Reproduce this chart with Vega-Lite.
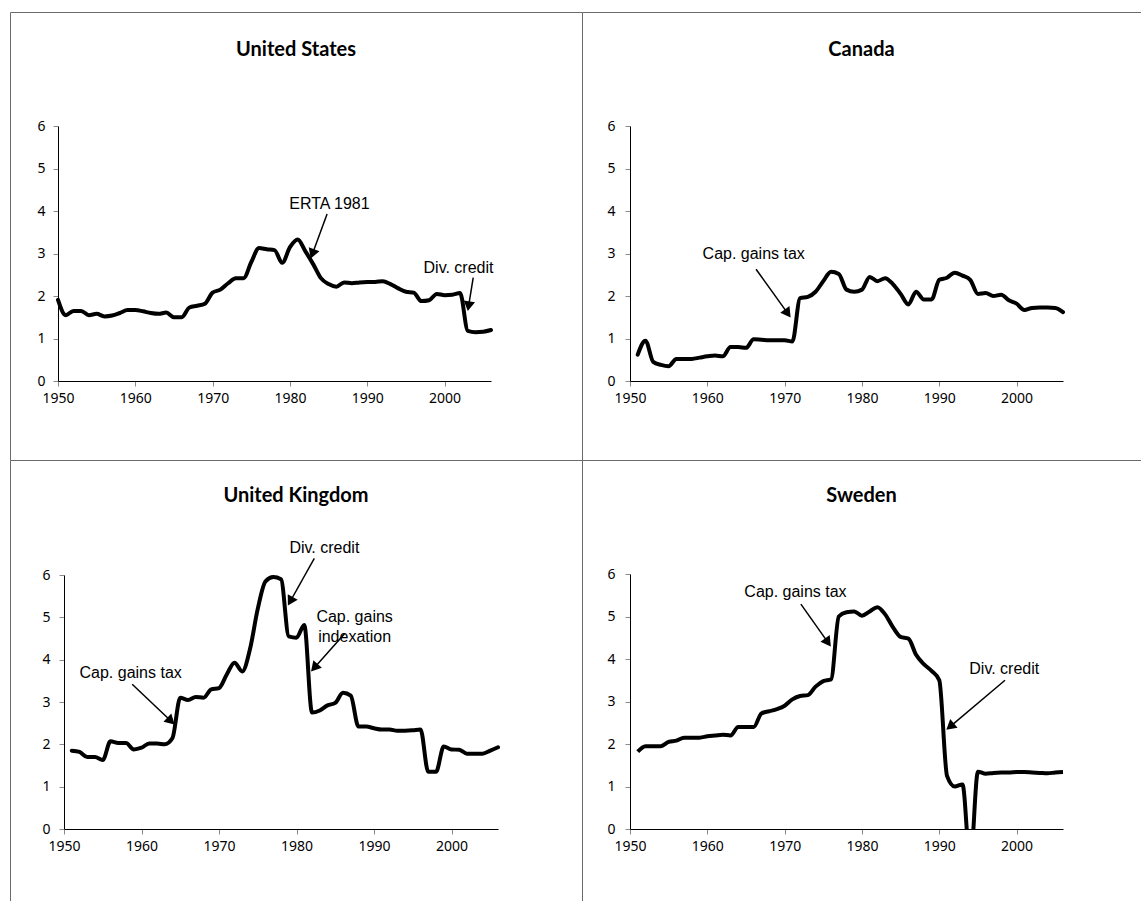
{
  "$schema": "https://vega.github.io/schema/vega-lite/v6.json",
  "padding": {"left": 9, "top": 11, "right": 0, "bottom": 0},
  "background": "white",
  "config": {
    "view": {"stroke": "#6b6b6b", "strokeWidth": 1},
    "axis": {"labelFont": "Noto Sans", "labelFontSize": 14, "labelColor": "black", "domainColor": "black", "domainWidth": 1, "tickColor": "#8a8a8a", "tickSize": 5, "grid": false, "labelFlush": false, "labelOverlap": false}
  },
  "datasets": {
    "series": [
      {"country": "United States", "year": 1950, "value": 1.91},
      {"country": "United States", "year": 1951, "value": 1.55},
      {"country": "United States", "year": 1952, "value": 1.65},
      {"country": "United States", "year": 1953, "value": 1.65},
      {"country": "United States", "year": 1954, "value": 1.55},
      {"country": "United States", "year": 1955, "value": 1.58},
      {"country": "United States", "year": 1956, "value": 1.52},
      {"country": "United States", "year": 1957, "value": 1.54},
      {"country": "United States", "year": 1958, "value": 1.6},
      {"country": "United States", "year": 1959, "value": 1.67},
      {"country": "United States", "year": 1960, "value": 1.67},
      {"country": "United States", "year": 1961, "value": 1.64},
      {"country": "United States", "year": 1962, "value": 1.6},
      {"country": "United States", "year": 1963, "value": 1.58},
      {"country": "United States", "year": 1964, "value": 1.61},
      {"country": "United States", "year": 1965, "value": 1.5},
      {"country": "United States", "year": 1966, "value": 1.5},
      {"country": "United States", "year": 1967, "value": 1.73},
      {"country": "United States", "year": 1968, "value": 1.77},
      {"country": "United States", "year": 1969, "value": 1.82},
      {"country": "United States", "year": 1970, "value": 2.08},
      {"country": "United States", "year": 1971, "value": 2.15},
      {"country": "United States", "year": 1972, "value": 2.3},
      {"country": "United States", "year": 1973, "value": 2.42},
      {"country": "United States", "year": 1974, "value": 2.42},
      {"country": "United States", "year": 1975, "value": 2.8},
      {"country": "United States", "year": 1976, "value": 3.13},
      {"country": "United States", "year": 1977, "value": 3.1},
      {"country": "United States", "year": 1978, "value": 3.08},
      {"country": "United States", "year": 1979, "value": 2.78},
      {"country": "United States", "year": 1980, "value": 3.15},
      {"country": "United States", "year": 1981, "value": 3.33},
      {"country": "United States", "year": 1982, "value": 3.05},
      {"country": "United States", "year": 1983, "value": 2.75},
      {"country": "United States", "year": 1984, "value": 2.42},
      {"country": "United States", "year": 1985, "value": 2.28},
      {"country": "United States", "year": 1986, "value": 2.22},
      {"country": "United States", "year": 1987, "value": 2.32},
      {"country": "United States", "year": 1988, "value": 2.3},
      {"country": "United States", "year": 1989, "value": 2.32},
      {"country": "United States", "year": 1990, "value": 2.33},
      {"country": "United States", "year": 1991, "value": 2.33},
      {"country": "United States", "year": 1992, "value": 2.35},
      {"country": "United States", "year": 1993, "value": 2.28},
      {"country": "United States", "year": 1994, "value": 2.18},
      {"country": "United States", "year": 1995, "value": 2.1},
      {"country": "United States", "year": 1996, "value": 2.08},
      {"country": "United States", "year": 1997, "value": 1.88},
      {"country": "United States", "year": 1998, "value": 1.9},
      {"country": "United States", "year": 1999, "value": 2.05},
      {"country": "United States", "year": 2000, "value": 2.02},
      {"country": "United States", "year": 2001, "value": 2.03},
      {"country": "United States", "year": 2002, "value": 2.07},
      {"country": "United States", "year": 2003, "value": 1.18},
      {"country": "United States", "year": 2004, "value": 1.15},
      {"country": "United States", "year": 2005, "value": 1.16},
      {"country": "United States", "year": 2006, "value": 1.2},
      {"country": "Canada", "year": 1951, "value": 0.62},
      {"country": "Canada", "year": 1952, "value": 0.95},
      {"country": "Canada", "year": 1953, "value": 0.45},
      {"country": "Canada", "year": 1954, "value": 0.38},
      {"country": "Canada", "year": 1955, "value": 0.35},
      {"country": "Canada", "year": 1956, "value": 0.52},
      {"country": "Canada", "year": 1957, "value": 0.52},
      {"country": "Canada", "year": 1958, "value": 0.52},
      {"country": "Canada", "year": 1959, "value": 0.55},
      {"country": "Canada", "year": 1960, "value": 0.58},
      {"country": "Canada", "year": 1961, "value": 0.6},
      {"country": "Canada", "year": 1962, "value": 0.58},
      {"country": "Canada", "year": 1963, "value": 0.8},
      {"country": "Canada", "year": 1964, "value": 0.8},
      {"country": "Canada", "year": 1965, "value": 0.78},
      {"country": "Canada", "year": 1966, "value": 0.98},
      {"country": "Canada", "year": 1967, "value": 0.97},
      {"country": "Canada", "year": 1968, "value": 0.96},
      {"country": "Canada", "year": 1969, "value": 0.96},
      {"country": "Canada", "year": 1970, "value": 0.96},
      {"country": "Canada", "year": 1971, "value": 0.93},
      {"country": "Canada", "year": 1972, "value": 1.95},
      {"country": "Canada", "year": 1973, "value": 1.98},
      {"country": "Canada", "year": 1974, "value": 2.1},
      {"country": "Canada", "year": 1975, "value": 2.35},
      {"country": "Canada", "year": 1976, "value": 2.57},
      {"country": "Canada", "year": 1977, "value": 2.52},
      {"country": "Canada", "year": 1978, "value": 2.15},
      {"country": "Canada", "year": 1979, "value": 2.1},
      {"country": "Canada", "year": 1980, "value": 2.15},
      {"country": "Canada", "year": 1981, "value": 2.45},
      {"country": "Canada", "year": 1982, "value": 2.35},
      {"country": "Canada", "year": 1983, "value": 2.42},
      {"country": "Canada", "year": 1984, "value": 2.28},
      {"country": "Canada", "year": 1985, "value": 2.05},
      {"country": "Canada", "year": 1986, "value": 1.8},
      {"country": "Canada", "year": 1987, "value": 2.1},
      {"country": "Canada", "year": 1988, "value": 1.92},
      {"country": "Canada", "year": 1989, "value": 1.92},
      {"country": "Canada", "year": 1990, "value": 2.38},
      {"country": "Canada", "year": 1991, "value": 2.43},
      {"country": "Canada", "year": 1992, "value": 2.55},
      {"country": "Canada", "year": 1993, "value": 2.48},
      {"country": "Canada", "year": 1994, "value": 2.38},
      {"country": "Canada", "year": 1995, "value": 2.05},
      {"country": "Canada", "year": 1996, "value": 2.07},
      {"country": "Canada", "year": 1997, "value": 2.0},
      {"country": "Canada", "year": 1998, "value": 2.03},
      {"country": "Canada", "year": 1999, "value": 1.9},
      {"country": "Canada", "year": 2000, "value": 1.82},
      {"country": "Canada", "year": 2001, "value": 1.67},
      {"country": "Canada", "year": 2002, "value": 1.72},
      {"country": "Canada", "year": 2003, "value": 1.73},
      {"country": "Canada", "year": 2004, "value": 1.73},
      {"country": "Canada", "year": 2005, "value": 1.72},
      {"country": "Canada", "year": 2006, "value": 1.62},
      {"country": "United Kingdom", "year": 1951, "value": 1.85},
      {"country": "United Kingdom", "year": 1952, "value": 1.82},
      {"country": "United Kingdom", "year": 1953, "value": 1.7},
      {"country": "United Kingdom", "year": 1954, "value": 1.7},
      {"country": "United Kingdom", "year": 1955, "value": 1.63},
      {"country": "United Kingdom", "year": 1956, "value": 2.07},
      {"country": "United Kingdom", "year": 1957, "value": 2.03},
      {"country": "United Kingdom", "year": 1958, "value": 2.03},
      {"country": "United Kingdom", "year": 1959, "value": 1.88},
      {"country": "United Kingdom", "year": 1960, "value": 1.92},
      {"country": "United Kingdom", "year": 1961, "value": 2.02},
      {"country": "United Kingdom", "year": 1962, "value": 2.02},
      {"country": "United Kingdom", "year": 1963, "value": 2.0},
      {"country": "United Kingdom", "year": 1964, "value": 2.15},
      {"country": "United Kingdom", "year": 1965, "value": 3.1},
      {"country": "United Kingdom", "year": 1966, "value": 3.05},
      {"country": "United Kingdom", "year": 1967, "value": 3.12},
      {"country": "United Kingdom", "year": 1968, "value": 3.1},
      {"country": "United Kingdom", "year": 1969, "value": 3.3},
      {"country": "United Kingdom", "year": 1970, "value": 3.33},
      {"country": "United Kingdom", "year": 1971, "value": 3.65},
      {"country": "United Kingdom", "year": 1972, "value": 3.93},
      {"country": "United Kingdom", "year": 1973, "value": 3.72},
      {"country": "United Kingdom", "year": 1974, "value": 4.25},
      {"country": "United Kingdom", "year": 1975, "value": 5.2},
      {"country": "United Kingdom", "year": 1976, "value": 5.85},
      {"country": "United Kingdom", "year": 1977, "value": 5.95},
      {"country": "United Kingdom", "year": 1978, "value": 5.9},
      {"country": "United Kingdom", "year": 1979, "value": 4.55},
      {"country": "United Kingdom", "year": 1980, "value": 4.52},
      {"country": "United Kingdom", "year": 1981, "value": 4.82},
      {"country": "United Kingdom", "year": 1982, "value": 2.75},
      {"country": "United Kingdom", "year": 1983, "value": 2.8},
      {"country": "United Kingdom", "year": 1984, "value": 2.92},
      {"country": "United Kingdom", "year": 1985, "value": 2.98},
      {"country": "United Kingdom", "year": 1986, "value": 3.22},
      {"country": "United Kingdom", "year": 1987, "value": 3.15},
      {"country": "United Kingdom", "year": 1988, "value": 2.42},
      {"country": "United Kingdom", "year": 1989, "value": 2.42},
      {"country": "United Kingdom", "year": 1990, "value": 2.38},
      {"country": "United Kingdom", "year": 1991, "value": 2.35},
      {"country": "United Kingdom", "year": 1992, "value": 2.35},
      {"country": "United Kingdom", "year": 1993, "value": 2.32},
      {"country": "United Kingdom", "year": 1994, "value": 2.32},
      {"country": "United Kingdom", "year": 1995, "value": 2.33},
      {"country": "United Kingdom", "year": 1996, "value": 2.35},
      {"country": "United Kingdom", "year": 1997, "value": 1.35},
      {"country": "United Kingdom", "year": 1998, "value": 1.35},
      {"country": "United Kingdom", "year": 1999, "value": 1.95},
      {"country": "United Kingdom", "year": 2000, "value": 1.88},
      {"country": "United Kingdom", "year": 2001, "value": 1.87},
      {"country": "United Kingdom", "year": 2002, "value": 1.78},
      {"country": "United Kingdom", "year": 2003, "value": 1.78},
      {"country": "United Kingdom", "year": 2004, "value": 1.78},
      {"country": "United Kingdom", "year": 2005, "value": 1.85},
      {"country": "United Kingdom", "year": 2006, "value": 1.93},
      {"country": "Sweden", "year": 1951, "value": 1.82},
      {"country": "Sweden", "year": 1952, "value": 1.95},
      {"country": "Sweden", "year": 1953, "value": 1.95},
      {"country": "Sweden", "year": 1954, "value": 1.95},
      {"country": "Sweden", "year": 1955, "value": 2.05},
      {"country": "Sweden", "year": 1956, "value": 2.08},
      {"country": "Sweden", "year": 1957, "value": 2.15},
      {"country": "Sweden", "year": 1958, "value": 2.15},
      {"country": "Sweden", "year": 1959, "value": 2.15},
      {"country": "Sweden", "year": 1960, "value": 2.18},
      {"country": "Sweden", "year": 1961, "value": 2.2},
      {"country": "Sweden", "year": 1962, "value": 2.22},
      {"country": "Sweden", "year": 1963, "value": 2.2},
      {"country": "Sweden", "year": 1964, "value": 2.4},
      {"country": "Sweden", "year": 1965, "value": 2.4},
      {"country": "Sweden", "year": 1966, "value": 2.4},
      {"country": "Sweden", "year": 1967, "value": 2.72},
      {"country": "Sweden", "year": 1968, "value": 2.77},
      {"country": "Sweden", "year": 1969, "value": 2.82},
      {"country": "Sweden", "year": 1970, "value": 2.9},
      {"country": "Sweden", "year": 1971, "value": 3.05},
      {"country": "Sweden", "year": 1972, "value": 3.13},
      {"country": "Sweden", "year": 1973, "value": 3.15},
      {"country": "Sweden", "year": 1974, "value": 3.35},
      {"country": "Sweden", "year": 1975, "value": 3.48},
      {"country": "Sweden", "year": 1976, "value": 3.52},
      {"country": "Sweden", "year": 1977, "value": 5.0},
      {"country": "Sweden", "year": 1978, "value": 5.1},
      {"country": "Sweden", "year": 1979, "value": 5.12},
      {"country": "Sweden", "year": 1980, "value": 5.02},
      {"country": "Sweden", "year": 1981, "value": 5.12},
      {"country": "Sweden", "year": 1982, "value": 5.22},
      {"country": "Sweden", "year": 1983, "value": 5.05},
      {"country": "Sweden", "year": 1984, "value": 4.75},
      {"country": "Sweden", "year": 1985, "value": 4.52},
      {"country": "Sweden", "year": 1986, "value": 4.48},
      {"country": "Sweden", "year": 1987, "value": 4.1},
      {"country": "Sweden", "year": 1988, "value": 3.88},
      {"country": "Sweden", "year": 1989, "value": 3.72},
      {"country": "Sweden", "year": 1990, "value": 3.5},
      {"country": "Sweden", "year": 1991, "value": 1.25},
      {"country": "Sweden", "year": 1992, "value": 1.0},
      {"country": "Sweden", "year": 1993, "value": 1.05},
      {"country": "Sweden", "year": 1994, "value": -0.8},
      {"country": "Sweden", "year": 1995, "value": 1.35},
      {"country": "Sweden", "year": 1996, "value": 1.3},
      {"country": "Sweden", "year": 1997, "value": 1.32},
      {"country": "Sweden", "year": 1998, "value": 1.33},
      {"country": "Sweden", "year": 1999, "value": 1.33},
      {"country": "Sweden", "year": 2000, "value": 1.34},
      {"country": "Sweden", "year": 2001, "value": 1.34},
      {"country": "Sweden", "year": 2002, "value": 1.33},
      {"country": "Sweden", "year": 2003, "value": 1.32},
      {"country": "Sweden", "year": 2004, "value": 1.31},
      {"country": "Sweden", "year": 2005, "value": 1.33},
      {"country": "Sweden", "year": 2006, "value": 1.34}
    ],
    "notes": [
      {"country": "United States", "label": "ERTA 1981", "lx": 1985.1, "ly": 4.16, "x": 1984.8, "y": 3.93, "x2": 1982.9, "y2": 2.99},
      {"country": "United States", "label": "Div. credit", "lx": 2001.8, "ly": 2.67, "x": 2003.7, "y": 2.43, "x2": 2003.1, "y2": 1.76},
      {"country": "Canada", "label": "Cap. gains tax", "lx": 1966.0, "ly": 3.0, "x": 1966.3, "y": 2.63, "x2": 1970.4, "y2": 1.59},
      {"country": "United Kingdom", "label": "Div. credit", "lx": 1983.6, "ly": 6.63, "x": 1982.3, "y": 6.39, "x2": 1979.2, "y2": 5.38},
      {"country": "United Kingdom", "label": "Cap. gains\nindexation", "lx": 1987.5, "ly": 5.0, "x": 1986.2, "y": 4.61, "x2": 1982.3, "y2": 3.81},
      {"country": "United Kingdom", "label": "Cap. gains tax", "lx": 1958.6, "ly": 3.69, "x": 1958.8, "y": 3.42, "x2": 1963.8, "y2": 2.55},
      {"country": "Sweden", "label": "Cap. gains tax", "lx": 1971.4, "ly": 5.58, "x": 1972.1, "y": 5.29, "x2": 1975.6, "y2": 4.39},
      {"country": "Sweden", "label": "Div. credit", "lx": 1998.4, "ly": 3.76, "x": 1998.5, "y": 3.5, "x2": 1991.4, "y2": 2.41}
    ]
  },
  "columns": 2,
  "spacing": 0,
  "bounds": "flush",
  "concat": [
    {
      "width": 572, "height": 448,
      "title": {"text": "United States", "font": "Lato", "fontSize": 20, "fontWeight": "bold", "color": "black", "anchor": "middle", "frame": "group", "offset": -64, "baseline": "alphabetic"},
      "layer": [
        {
          "data": {"name": "series"},
          "transform": [{"filter": "datum.country === 'United States'"}],
          "mark": {"type": "line", "interpolate": "monotone", "strokeWidth": 4, "color": "black", "strokeCap": "round", "strokeJoin": "round"},
          "encoding": {
            "x": {"field": "year", "type": "quantitative", "scale": {"domain": [1950, 2006], "range": [48, 481], "nice": false, "zero": false},
              "axis": {"values": [1950, 1960, 1970, 1980, 1990, 2000], "format": "d", "title": null, "offset": -79, "zindex": 1, "labelPadding": 5, "encode": {"labels": {"update": {"font": {"value": "Liberation Sans"}, "fontSize": {"value": 14}}}}}},
            "y": {"field": "value", "type": "quantitative", "scale": {"domain": [0, 6], "range": [369, 114], "nice": false, "zero": false},
              "axis": {"values": [0, 1, 2, 3, 4, 5, 6], "format": "d", "title": null, "offset": -48, "zindex": 1, "labelPadding": 8, "encode": {"labels": {"update": {"font": {"value": "Liberation Sans"}, "fontSize": {"value": 14}}}}}}
          }
        },
        {
          "data": {"name": "notes"},
          "transform": [{"filter": "datum.country === 'United States'"}],
          "mark": {"type": "rule", "strokeWidth": 1.5, "color": "black"},
          "encoding": {
            "x": {"field": "x", "type": "quantitative", "scale": {"domain": [1950, 2006], "range": [48, 481], "nice": false, "zero": false},
              "axis": {"values": [1950, 1960, 1970, 1980, 1990, 2000], "format": "d", "title": null, "offset": -79, "zindex": 1, "labelPadding": 5, "encode": {"labels": {"update": {"font": {"value": "Liberation Sans"}, "fontSize": {"value": 14}}}}}},
            "y": {"field": "y", "type": "quantitative", "scale": {"domain": [0, 6], "range": [369, 114], "nice": false, "zero": false},
              "axis": {"values": [0, 1, 2, 3, 4, 5, 6], "format": "d", "title": null, "offset": -48, "zindex": 1, "labelPadding": 8, "encode": {"labels": {"update": {"font": {"value": "Liberation Sans"}, "fontSize": {"value": 14}}}}}},
            "x2": {"field": "x2"}, "y2": {"field": "y2"}
          }
        },
        {
          "data": {"name": "notes"},
          "transform": [{"filter": "datum.country === 'United States'"}, {"calculate": "atan2((datum.x2 - datum.x) * 7.73, (datum.y2 - datum.y) * 42.5) * 180 / PI", "as": "angle"}],
          "mark": {"type": "point", "shape": "triangle-up", "filled": true, "size": 130, "color": "black", "opacity": 1},
          "encoding": {
            "x": {"field": "x2", "type": "quantitative", "scale": {"domain": [1950, 2006], "range": [48, 481], "nice": false, "zero": false},
              "axis": {"values": [1950, 1960, 1970, 1980, 1990, 2000], "format": "d", "title": null, "offset": -79, "zindex": 1, "labelPadding": 5, "encode": {"labels": {"update": {"font": {"value": "Liberation Sans"}, "fontSize": {"value": 14}}}}}},
            "y": {"field": "y2", "type": "quantitative", "scale": {"domain": [0, 6], "range": [369, 114], "nice": false, "zero": false},
              "axis": {"values": [0, 1, 2, 3, 4, 5, 6], "format": "d", "title": null, "offset": -48, "zindex": 1, "labelPadding": 8, "encode": {"labels": {"update": {"font": {"value": "Liberation Sans"}, "fontSize": {"value": 14}}}}}},
            "angle": {"field": "angle", "type": "quantitative", "scale": null}
          }
        },
        {
          "data": {"name": "notes"},
          "transform": [{"filter": "datum.country === 'United States'"}],
          "mark": {"type": "text", "font": "Liberation Sans", "fontSize": 16, "align": "center", "baseline": "middle", "lineBreak": "\n", "lineHeight": 20, "color": "black"},
          "encoding": {
            "x": {"field": "lx", "type": "quantitative", "scale": {"domain": [1950, 2006], "range": [48, 481], "nice": false, "zero": false},
              "axis": {"values": [1950, 1960, 1970, 1980, 1990, 2000], "format": "d", "title": null, "offset": -79, "zindex": 1, "labelPadding": 5, "encode": {"labels": {"update": {"font": {"value": "Liberation Sans"}, "fontSize": {"value": 14}}}}}},
            "y": {"field": "ly", "type": "quantitative", "scale": {"domain": [0, 6], "range": [369, 114], "nice": false, "zero": false},
              "axis": {"values": [0, 1, 2, 3, 4, 5, 6], "format": "d", "title": null, "offset": -48, "zindex": 1, "labelPadding": 8, "encode": {"labels": {"update": {"font": {"value": "Liberation Sans"}, "fontSize": {"value": 14}}}}}},
            "text": {"field": "label"}
          }
        }
      ]
    },
    {
      "width": 559, "height": 448,
      "title": {"text": "Canada", "font": "Lato", "fontSize": 20, "fontWeight": "bold", "color": "black", "anchor": "middle", "frame": "group", "offset": -64, "baseline": "alphabetic"},
      "layer": [
        {
          "data": {"name": "series"},
          "transform": [{"filter": "datum.country === 'Canada'"}],
          "mark": {"type": "line", "interpolate": "monotone", "strokeWidth": 4, "color": "black", "strokeCap": "round", "strokeJoin": "round"},
          "encoding": {
            "x": {"field": "year", "type": "quantitative", "scale": {"domain": [1950, 2006], "range": [48, 481], "nice": false, "zero": false},
              "axis": {"values": [1950, 1960, 1970, 1980, 1990, 2000], "format": "d", "title": null, "offset": -79, "zindex": 1, "labelPadding": 5, "encode": {"labels": {"update": {"font": {"value": "Noto Sans"}, "fontSize": {"value": 14}}}}}},
            "y": {"field": "value", "type": "quantitative", "scale": {"domain": [0, 6], "range": [369, 114], "nice": false, "zero": false},
              "axis": {"values": [0, 1, 2, 3, 4, 5, 6], "format": "d", "title": null, "offset": -48, "zindex": 1, "labelPadding": 10, "encode": {"labels": {"update": {"font": {"value": "Noto Sans"}, "fontSize": {"value": 14}}}}}}
          }
        },
        {
          "data": {"name": "notes"},
          "transform": [{"filter": "datum.country === 'Canada'"}],
          "mark": {"type": "rule", "strokeWidth": 1.5, "color": "black"},
          "encoding": {
            "x": {"field": "x", "type": "quantitative", "scale": {"domain": [1950, 2006], "range": [48, 481], "nice": false, "zero": false},
              "axis": {"values": [1950, 1960, 1970, 1980, 1990, 2000], "format": "d", "title": null, "offset": -79, "zindex": 1, "labelPadding": 5, "encode": {"labels": {"update": {"font": {"value": "Noto Sans"}, "fontSize": {"value": 14}}}}}},
            "y": {"field": "y", "type": "quantitative", "scale": {"domain": [0, 6], "range": [369, 114], "nice": false, "zero": false},
              "axis": {"values": [0, 1, 2, 3, 4, 5, 6], "format": "d", "title": null, "offset": -48, "zindex": 1, "labelPadding": 10, "encode": {"labels": {"update": {"font": {"value": "Noto Sans"}, "fontSize": {"value": 14}}}}}},
            "x2": {"field": "x2"}, "y2": {"field": "y2"}
          }
        },
        {
          "data": {"name": "notes"},
          "transform": [{"filter": "datum.country === 'Canada'"}, {"calculate": "atan2((datum.x2 - datum.x) * 7.73, (datum.y2 - datum.y) * 42.5) * 180 / PI", "as": "angle"}],
          "mark": {"type": "point", "shape": "triangle-up", "filled": true, "size": 130, "color": "black", "opacity": 1},
          "encoding": {
            "x": {"field": "x2", "type": "quantitative", "scale": {"domain": [1950, 2006], "range": [48, 481], "nice": false, "zero": false},
              "axis": {"values": [1950, 1960, 1970, 1980, 1990, 2000], "format": "d", "title": null, "offset": -79, "zindex": 1, "labelPadding": 5, "encode": {"labels": {"update": {"font": {"value": "Noto Sans"}, "fontSize": {"value": 14}}}}}},
            "y": {"field": "y2", "type": "quantitative", "scale": {"domain": [0, 6], "range": [369, 114], "nice": false, "zero": false},
              "axis": {"values": [0, 1, 2, 3, 4, 5, 6], "format": "d", "title": null, "offset": -48, "zindex": 1, "labelPadding": 10, "encode": {"labels": {"update": {"font": {"value": "Noto Sans"}, "fontSize": {"value": 14}}}}}},
            "angle": {"field": "angle", "type": "quantitative", "scale": null}
          }
        },
        {
          "data": {"name": "notes"},
          "transform": [{"filter": "datum.country === 'Canada'"}],
          "mark": {"type": "text", "font": "Liberation Sans", "fontSize": 16, "align": "center", "baseline": "middle", "lineBreak": "\n", "lineHeight": 20, "color": "black"},
          "encoding": {
            "x": {"field": "lx", "type": "quantitative", "scale": {"domain": [1950, 2006], "range": [48, 481], "nice": false, "zero": false},
              "axis": {"values": [1950, 1960, 1970, 1980, 1990, 2000], "format": "d", "title": null, "offset": -79, "zindex": 1, "labelPadding": 5, "encode": {"labels": {"update": {"font": {"value": "Noto Sans"}, "fontSize": {"value": 14}}}}}},
            "y": {"field": "ly", "type": "quantitative", "scale": {"domain": [0, 6], "range": [369, 114], "nice": false, "zero": false},
              "axis": {"values": [0, 1, 2, 3, 4, 5, 6], "format": "d", "title": null, "offset": -48, "zindex": 1, "labelPadding": 10, "encode": {"labels": {"update": {"font": {"value": "Noto Sans"}, "fontSize": {"value": 14}}}}}},
            "text": {"field": "label"}
          }
        }
      ]
    },
    {
      "width": 572, "height": 441,
      "title": {"text": "United Kingdom", "font": "Lato", "fontSize": 20, "fontWeight": "bold", "color": "black", "anchor": "middle", "frame": "group", "offset": -62, "baseline": "alphabetic"},
      "layer": [
        {
          "data": {"name": "series"},
          "transform": [{"filter": "datum.country === 'United Kingdom'"}],
          "mark": {"type": "line", "interpolate": "monotone", "strokeWidth": 4, "color": "black", "strokeCap": "round", "strokeJoin": "round"},
          "encoding": {
            "x": {"field": "year", "type": "quantitative", "scale": {"domain": [1950, 2006], "range": [54, 488], "nice": false, "zero": false},
              "axis": {"values": [1950, 1960, 1970, 1980, 1990, 2000], "format": "d", "title": null, "offset": -72, "zindex": 1, "labelPadding": 5, "encode": {"labels": {"update": {"font": {"value": "Noto Sans"}, "fontSize": {"value": 14}}}}}},
            "y": {"field": "value", "type": "quantitative", "scale": {"domain": [0, 6], "range": [369, 115], "nice": false, "zero": false},
              "axis": {"values": [0, 1, 2, 3, 4, 5, 6], "format": "d", "title": null, "offset": -54, "zindex": 1, "labelPadding": 9, "encode": {"labels": {"update": {"font": {"value": "Noto Sans"}, "fontSize": {"value": 14}}}}}}
          }
        },
        {
          "data": {"name": "notes"},
          "transform": [{"filter": "datum.country === 'United Kingdom'"}],
          "mark": {"type": "rule", "strokeWidth": 1.5, "color": "black"},
          "encoding": {
            "x": {"field": "x", "type": "quantitative", "scale": {"domain": [1950, 2006], "range": [54, 488], "nice": false, "zero": false},
              "axis": {"values": [1950, 1960, 1970, 1980, 1990, 2000], "format": "d", "title": null, "offset": -72, "zindex": 1, "labelPadding": 5, "encode": {"labels": {"update": {"font": {"value": "Noto Sans"}, "fontSize": {"value": 14}}}}}},
            "y": {"field": "y", "type": "quantitative", "scale": {"domain": [0, 6], "range": [369, 115], "nice": false, "zero": false},
              "axis": {"values": [0, 1, 2, 3, 4, 5, 6], "format": "d", "title": null, "offset": -54, "zindex": 1, "labelPadding": 9, "encode": {"labels": {"update": {"font": {"value": "Noto Sans"}, "fontSize": {"value": 14}}}}}},
            "x2": {"field": "x2"}, "y2": {"field": "y2"}
          }
        },
        {
          "data": {"name": "notes"},
          "transform": [{"filter": "datum.country === 'United Kingdom'"}, {"calculate": "atan2((datum.x2 - datum.x) * 7.75, (datum.y2 - datum.y) * 42.3) * 180 / PI", "as": "angle"}],
          "mark": {"type": "point", "shape": "triangle-up", "filled": true, "size": 130, "color": "black", "opacity": 1},
          "encoding": {
            "x": {"field": "x2", "type": "quantitative", "scale": {"domain": [1950, 2006], "range": [54, 488], "nice": false, "zero": false},
              "axis": {"values": [1950, 1960, 1970, 1980, 1990, 2000], "format": "d", "title": null, "offset": -72, "zindex": 1, "labelPadding": 5, "encode": {"labels": {"update": {"font": {"value": "Noto Sans"}, "fontSize": {"value": 14}}}}}},
            "y": {"field": "y2", "type": "quantitative", "scale": {"domain": [0, 6], "range": [369, 115], "nice": false, "zero": false},
              "axis": {"values": [0, 1, 2, 3, 4, 5, 6], "format": "d", "title": null, "offset": -54, "zindex": 1, "labelPadding": 9, "encode": {"labels": {"update": {"font": {"value": "Noto Sans"}, "fontSize": {"value": 14}}}}}},
            "angle": {"field": "angle", "type": "quantitative", "scale": null}
          }
        },
        {
          "data": {"name": "notes"},
          "transform": [{"filter": "datum.country === 'United Kingdom'"}],
          "mark": {"type": "text", "font": "Liberation Sans", "fontSize": 16, "align": "center", "baseline": "middle", "lineBreak": "\n", "lineHeight": 20, "color": "black"},
          "encoding": {
            "x": {"field": "lx", "type": "quantitative", "scale": {"domain": [1950, 2006], "range": [54, 488], "nice": false, "zero": false},
              "axis": {"values": [1950, 1960, 1970, 1980, 1990, 2000], "format": "d", "title": null, "offset": -72, "zindex": 1, "labelPadding": 5, "encode": {"labels": {"update": {"font": {"value": "Noto Sans"}, "fontSize": {"value": 14}}}}}},
            "y": {"field": "ly", "type": "quantitative", "scale": {"domain": [0, 6], "range": [369, 115], "nice": false, "zero": false},
              "axis": {"values": [0, 1, 2, 3, 4, 5, 6], "format": "d", "title": null, "offset": -54, "zindex": 1, "labelPadding": 9, "encode": {"labels": {"update": {"font": {"value": "Noto Sans"}, "fontSize": {"value": 14}}}}}},
            "text": {"field": "label"}
          }
        }
      ]
    },
    {
      "width": 559, "height": 441,
      "title": {"text": "Sweden", "font": "Lato", "fontSize": 20, "fontWeight": "bold", "color": "black", "anchor": "middle", "frame": "group", "offset": -62, "baseline": "alphabetic"},
      "layer": [
        {
          "data": {"name": "series"},
          "transform": [{"filter": "datum.country === 'Sweden'"}],
          "mark": {"type": "line", "interpolate": "monotone", "strokeWidth": 4, "color": "black", "strokeCap": "butt", "strokeJoin": "round"},
          "encoding": {
            "x": {"field": "year", "type": "quantitative", "scale": {"domain": [1950, 2006], "range": [48, 481], "nice": false, "zero": false},
              "axis": {"values": [1950, 1960, 1970, 1980, 1990, 2000], "format": "d", "title": null, "offset": -72, "zindex": 1, "labelPadding": 5, "encode": {"labels": {"update": {"font": {"value": "Noto Sans"}, "fontSize": {"value": 14}}}}}},
            "y": {"field": "value", "type": "quantitative", "scale": {"domain": [0, 6], "range": [369, 114], "nice": false, "zero": false},
              "axis": {"values": [0, 1, 2, 3, 4, 5, 6], "format": "d", "title": null, "offset": -48, "zindex": 1, "labelPadding": 10, "encode": {"labels": {"update": {"font": {"value": "Noto Sans"}, "fontSize": {"value": 14}}}}}}
          }
        },
        {
          "data": {"values": [{}]},
          "mark": {"type": "rect", "color": "white", "opacity": 1},
          "encoding": {
            "x": {"datum": 1950, "type": "quantitative", "scale": {"domain": [1950, 2006], "range": [48, 481], "nice": false, "zero": false}},
            "x2": {"datum": 2006},
            "y": {"datum": 0, "type": "quantitative", "scale": {"domain": [0, 6], "range": [369, 114], "nice": false, "zero": false}},
            "y2": {"datum": -1.2}
          }
        },
        {
          "data": {"name": "notes"},
          "transform": [{"filter": "datum.country === 'Sweden'"}],
          "mark": {"type": "rule", "strokeWidth": 1.5, "color": "black"},
          "encoding": {
            "x": {"field": "x", "type": "quantitative", "scale": {"domain": [1950, 2006], "range": [48, 481], "nice": false, "zero": false},
              "axis": {"values": [1950, 1960, 1970, 1980, 1990, 2000], "format": "d", "title": null, "offset": -72, "zindex": 1, "labelPadding": 5, "encode": {"labels": {"update": {"font": {"value": "Noto Sans"}, "fontSize": {"value": 14}}}}}},
            "y": {"field": "y", "type": "quantitative", "scale": {"domain": [0, 6], "range": [369, 114], "nice": false, "zero": false},
              "axis": {"values": [0, 1, 2, 3, 4, 5, 6], "format": "d", "title": null, "offset": -48, "zindex": 1, "labelPadding": 10, "encode": {"labels": {"update": {"font": {"value": "Noto Sans"}, "fontSize": {"value": 14}}}}}},
            "x2": {"field": "x2"}, "y2": {"field": "y2"}
          }
        },
        {
          "data": {"name": "notes"},
          "transform": [{"filter": "datum.country === 'Sweden'"}, {"calculate": "atan2((datum.x2 - datum.x) * 7.73, (datum.y2 - datum.y) * 42.5) * 180 / PI", "as": "angle"}],
          "mark": {"type": "point", "shape": "triangle-up", "filled": true, "size": 130, "color": "black", "opacity": 1},
          "encoding": {
            "x": {"field": "x2", "type": "quantitative", "scale": {"domain": [1950, 2006], "range": [48, 481], "nice": false, "zero": false},
              "axis": {"values": [1950, 1960, 1970, 1980, 1990, 2000], "format": "d", "title": null, "offset": -72, "zindex": 1, "labelPadding": 5, "encode": {"labels": {"update": {"font": {"value": "Noto Sans"}, "fontSize": {"value": 14}}}}}},
            "y": {"field": "y2", "type": "quantitative", "scale": {"domain": [0, 6], "range": [369, 114], "nice": false, "zero": false},
              "axis": {"values": [0, 1, 2, 3, 4, 5, 6], "format": "d", "title": null, "offset": -48, "zindex": 1, "labelPadding": 10, "encode": {"labels": {"update": {"font": {"value": "Noto Sans"}, "fontSize": {"value": 14}}}}}},
            "angle": {"field": "angle", "type": "quantitative", "scale": null}
          }
        },
        {
          "data": {"name": "notes"},
          "transform": [{"filter": "datum.country === 'Sweden'"}],
          "mark": {"type": "text", "font": "Liberation Sans", "fontSize": 16, "align": "center", "baseline": "middle", "lineBreak": "\n", "lineHeight": 20, "color": "black"},
          "encoding": {
            "x": {"field": "lx", "type": "quantitative", "scale": {"domain": [1950, 2006], "range": [48, 481], "nice": false, "zero": false},
              "axis": {"values": [1950, 1960, 1970, 1980, 1990, 2000], "format": "d", "title": null, "offset": -72, "zindex": 1, "labelPadding": 5, "encode": {"labels": {"update": {"font": {"value": "Noto Sans"}, "fontSize": {"value": 14}}}}}},
            "y": {"field": "ly", "type": "quantitative", "scale": {"domain": [0, 6], "range": [369, 114], "nice": false, "zero": false},
              "axis": {"values": [0, 1, 2, 3, 4, 5, 6], "format": "d", "title": null, "offset": -48, "zindex": 1, "labelPadding": 10, "encode": {"labels": {"update": {"font": {"value": "Noto Sans"}, "fontSize": {"value": 14}}}}}},
            "text": {"field": "label"}
          }
        }
      ]
    }
  ]
}
